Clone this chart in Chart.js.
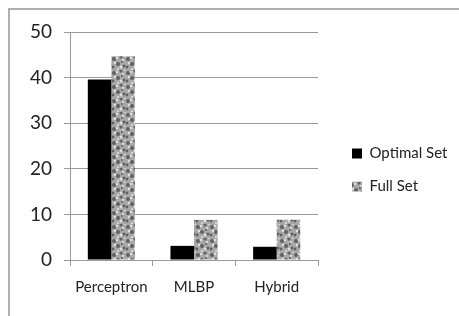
<!DOCTYPE html>
<html>
<head>
  <meta charset="UTF-8">
  <title>Classifier comparison</title>
  <script src="https://cdn.jsdelivr.net/npm/chart.js"></script>
  <style>
    html, body {
      margin: 0;
      padding: 0;
      background: #fff;
      overflow: hidden;
    }
    #frame {
      position: absolute;
      left: 8px;
      top: 8px;
      width: 480px;
      height: 340px;
      border: 2px solid #b0b0b0;
    }
    #wrap {
      position: absolute;
      left: 0;
      top: 0;
      width: 459px;
      height: 316px;
    }
  </style>
</head>
<body>
<div id="frame"></div>
<div id="wrap"><canvas id="chart" width="459" height="316"></canvas></div>

<script>
  // values
  const categories = ['Perceptron', 'MLBP', 'Hybrid'];
  const optimalSet = [39.6, 3.1, 2.9];
  const fullSet = [44.7, 8.8, 8.8];
  const yTicks = [0, 10, 20, 30, 40, 50];

  // mottled grey texture for the "Full Set" bars
  function makeTexture() {
    const c = document.createElement('canvas');
    c.width = 14;
    c.height = 14;
    const g = c.getContext('2d');
    g.fillStyle = '#a8a8a8';
    g.fillRect(0, 0, 14, 14);
    const dark = [[2, 3, 2], [9, 1, 1.5], [6, 8, 2], [12, 10, 1.6], [1, 11, 1.4], [10, 6, 1]];
    const light = [[5, 2, 1.3], [11, 4, 1.1], [3, 7, 1.2], [9, 11, 1.4], [6, 13, 1], [13, 0, 1]];
    g.fillStyle = '#606060';
    dark.forEach(([x, y, r]) => { g.beginPath(); g.arc(x, y, r, 0, Math.PI * 2); g.fill(); });
    g.fillStyle = '#e0e0e0';
    light.forEach(([x, y, r]) => { g.beginPath(); g.arc(x, y, r, 0, Math.PI * 2); g.fill(); });
    return g.createPattern(c, 'repeat');
  }

  // legend sits a bit further right of the plot than chart.js puts it
  const legendShift = {
    id: 'legendShift',
    afterLayout(chart) {
      const lg = chart.legend;
      if (!lg) return;
      lg.left = chart.chartArea.right + 16;
      lg.right = chart.width;
    }
  };

  const ctx = document.getElementById('chart').getContext('2d');
  const texture = makeTexture();

  new Chart(ctx, {
    type: 'bar',
    data: {
      labels: categories,
      datasets: [
        {
          label: 'Optimal Set',
          data: optimalSet,
          backgroundColor: '#000',
          borderWidth: 0
        },
        {
          label: 'Full Set',
          data: fullSet,
          backgroundColor: texture,
          borderWidth: 0
        }
      ]
    },
    plugins: [legendShift],
    options: {
      responsive: false,
      animation: false,
      layout: { padding: { top: 32, left: 18, right: 41, bottom: 8 } },
      datasets: {
        bar: { categoryPercentage: 0.57, barPercentage: 1.0 }
      },
      plugins: {
        tooltip: { enabled: false },
        legend: {
          position: 'right',
          labels: {
            boxWidth: 10,
            boxHeight: 10,
            padding: 18,
            color: '#222',
            font: { family: 'Lato', size: 15 }
          }
        }
      },
      scales: {
        x: {
          grid: { drawOnChartArea: false, drawTicks: true, tickLength: 6, color: '#999' },
          border: { color: '#999' },
          ticks: { color: '#222', font: { family: 'Lato', size: 15 }, padding: 12 }
        },
        y: {
          min: 0,
          max: 50,
          afterBuildTicks: (scale) => { scale.ticks = yTicks.map(v => ({ value: v })); },
          grid: { color: '#999', tickLength: 6 },
          border: { color: '#999' },
          ticks: { color: '#222', font: { family: 'Lato', size: 19 }, padding: 12 }
        }
      }
    }
  });
</script>
</body>
</html>
